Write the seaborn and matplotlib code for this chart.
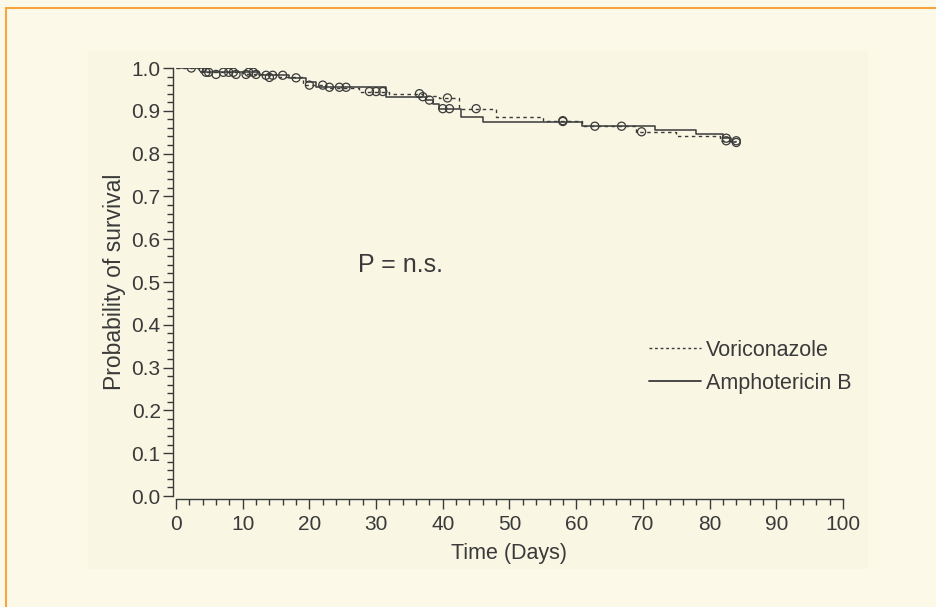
"""
Kaplan-Meier style survival curves: voriconazole vs amphotericin B.
"""

import matplotlib.pyplot as plt
import numpy as np
import pandas as pd
import seaborn as sns
from matplotlib.lines import Line2D
from matplotlib.patches import Rectangle
from matplotlib.ticker import MultipleLocator

# Step curves (time in days, survival after the step)
AMPHO_TIME = [0, 4.0, 12.5, 17.0, 19.5, 21.0, 31.5, 37.5, 38.5, 39.5, 42.8, 46.0, 60.8, 71.8, 78.0, 82.0, 83.2, 84.0]
AMPHO_SURV = [1.0, 0.99, 0.983, 0.977, 0.968, 0.955, 0.933, 0.925, 0.915, 0.905, 0.886, 0.875, 0.864, 0.855, 0.846, 0.836, 0.826, 0.826]

VORI_TIME = [0, 3.5, 10.0, 15.0, 19.0, 22.5, 27.5, 32.0, 37.0, 39.5, 42.5, 48.0, 55.0, 60.8, 69.0, 75.0, 81.5, 84.0]
VORI_SURV = [1.0, 0.99, 0.985, 0.978, 0.96, 0.953, 0.945, 0.94, 0.935, 0.93, 0.905, 0.886, 0.877, 0.864, 0.851, 0.84, 0.83, 0.83]

# Censored observations
AMPHO_CENS_T = [2.3, 4.9, 7.1, 7.9, 8.6, 10.9, 11.6, 13.5, 14.5, 16.0, 18.0, 23.0, 24.5, 25.5, 37.0, 38.0, 40.0, 41.0, 58.0, 62.8, 66.8, 82.5, 84.0]
AMPHO_CENS_S = [1.0, 0.99, 0.99, 0.99, 0.99, 0.99, 0.99, 0.983, 0.983, 0.983, 0.977, 0.955, 0.955, 0.955, 0.933, 0.925, 0.905, 0.905, 0.875, 0.864, 0.864, 0.836, 0.826]

VORI_CENS_T = [4.0, 4.5, 6.0, 9.0, 10.5, 12.0, 14.0, 20.0, 22.0, 29.0, 30.0, 31.0, 36.5, 40.7, 45.0, 58.0, 69.8, 82.5, 84.0]
VORI_CENS_S = [1.0, 0.99, 0.985, 0.985, 0.985, 0.985, 0.978, 0.96, 0.96, 0.945, 0.945, 0.945, 0.94, 0.93, 0.905, 0.877, 0.851, 0.83, 0.83]

SERIES_LABELS = ["Voriconazole", "Amphotericin B"]
INK = "#3a3a3a"
OUTER_BG = "#fcf9e9"
INNER_BG = "#f9f6e4"
BORDER = "#f7a441"

sns.set_style("ticks")
plt.rcParams["font.family"] = ["Liberation Sans", "DejaVu Sans"]

fig = plt.figure(figsize=(9.37, 6.07), dpi=100, facecolor=OUTER_BG)
# inner panel and orange frame (behind the axes)
fig.patches.append(Rectangle((88 / 937, 1 - 569 / 607), 780 / 937, 519 / 607,
                             transform=fig.transFigure, facecolor=INNER_BG,
                             edgecolor="none", zorder=-2))
fig.lines.append(Line2D([6 / 937, 6 / 937], [0, 1 - 8 / 607], transform=fig.transFigure,
                        color=BORDER, linewidth=1.5, zorder=-1))
fig.lines.append(Line2D([6 / 937, 1], [1 - 8 / 607, 1 - 8 / 607], transform=fig.transFigure,
                        color=BORDER, linewidth=1.5, zorder=-1))

ax = fig.add_axes([176 / 937, 1 - 496 / 607, 667 / 937, 428 / 607])
ax.set_facecolor("none")

ampho = pd.DataFrame({"t": AMPHO_TIME, "s": AMPHO_SURV})
vori = pd.DataFrame({"t": VORI_TIME, "s": VORI_SURV})

sns.lineplot(data=vori, x="t", y="s", ax=ax, estimator=None, sort=False,
             drawstyle="steps-post", color=INK, linewidth=1.0, linestyle=(0, (2.5, 2.5)))
sns.lineplot(data=ampho, x="t", y="s", ax=ax, estimator=None, sort=False,
             drawstyle="steps-post", color=INK, linewidth=1.1)

for ct, cs in [(VORI_CENS_T, VORI_CENS_S), (AMPHO_CENS_T, AMPHO_CENS_S)]:
    sns.scatterplot(x=ct, y=cs, ax=ax, marker="o", s=34, color=INK, linewidth=0.9)
    coll = ax.collections[-1]
    coll.set_facecolor("none")
    coll.set_edgecolor(INK)

ax.set_xlim(0, 100)
ax.set_ylim(0, 1.0)
ax.xaxis.set_major_locator(MultipleLocator(10))
ax.xaxis.set_minor_locator(MultipleLocator(2))
ax.yaxis.set_minor_locator(MultipleLocator(0.02))
ax.set_yticks(np.round(np.arange(0, 1.01, 0.1), 1))
ax.set_yticklabels([f"{v:.1f}" for v in np.arange(0, 1.01, 0.1)])
ax.tick_params(axis="both", which="major", length=7, width=1, color=INK,
               labelsize=15, labelcolor=INK)
ax.tick_params(axis="x", which="major", pad=5)
ax.tick_params(axis="y", which="major", pad=2)
ax.tick_params(axis="both", which="minor", length=4, width=1, color=INK)
for side in ["top", "right"]:
    ax.spines[side].set_visible(False)
for side in ["left", "bottom"]:
    ax.spines[side].set_color(INK)
    ax.spines[side].set_linewidth(1)
    ax.spines[side].set_position(("outward", 2))

ax.set_xlabel("Time (Days)", fontsize=15.5, color=INK, labelpad=6)
ax.set_ylabel("Probability of survival", fontsize=16.5, color=INK, labelpad=4)

ax.text(27.3, 0.54, "P = n.s.", fontsize=18, color=INK, ha="left", va="center")

handles = [Line2D([], [], color=INK, linewidth=1.0, linestyle=(0, (2, 2))),
           Line2D([], [], color=INK, linewidth=1.3)]
ax.legend(handles, SERIES_LABELS, loc="upper left", bbox_to_anchor=(0.68, 0.41),
          frameon=False, fontsize=15.5, labelcolor=INK, handlelength=2.4,
          handletextpad=0.25, labelspacing=0.55)

fig.savefig("out.png", dpi=100, facecolor=OUTER_BG)
